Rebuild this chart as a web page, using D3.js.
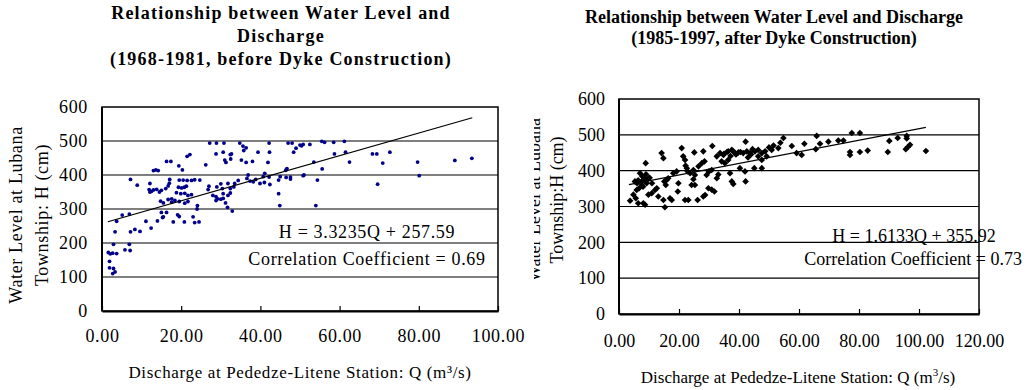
<!DOCTYPE html>
<html lang="en">
<head>
<meta charset="UTF-8">
<title>Water Level vs Discharge</title>
<script src="https://d3js.org/d3.v7.min.js"></script>
<style>
  body{margin:0;background:#fff;}
  svg text{font-family:"Liberation Serif","Times New Roman",serif;fill:#000;}
</style>
</head>
<body>
<svg id="canvas" width="1029" height="390"></svg>
<script>
// ---- data: [discharge Q (m3/s), water level H (cm)]
const before = [
  [2.9,196],[1.6,172],[2.1,168],[2.7,170],[3.7,169],[1.9,146],[1.9,127],[2.9,125],[2.7,110],[3.3,115],
  [5.8,180],[7.1,178],[6.9,196],[3.3,233],[3.7,264],[5.1,282],[6.9,285],[7.2,387],[8.9,370],[7.2,233],
  [8.3,240],[9.6,234],[11.1,264],[12.4,244],[13.0,413],[13.6,415],[14.2,413],[12.1,375],[11.9,357],[12.1,350],
  [12.5,352],[13.0,356],[13.8,358],[15.0,355],[14.5,350],[14.0,265],[15.3,275],[16.3,290],[15.0,290],[15.5,277],
  [14.8,323],[15.5,318],[16.7,328],[17.6,320],[16.3,440],[17.4,440],[17.1,387],[17.0,376],[16.1,360],[16.7,368],
  [17.6,330],[18.4,325],[18.0,262],[19.1,283],[19.5,278],[19.4,427],[20.3,415],[19.5,385],[20.5,385],[19.3,364],
  [20.1,362],[20.8,364],[21.3,367],[18.8,348],[19.9,345],[20.9,346],[19.5,322],[20.9,317],[21.7,322],[21.5,455],
  [22.2,460],[21.5,384],[22.6,384],[23.4,386],[21.7,340],[22.6,342],[20.8,262],[23.0,277],[24.5,262],[23.4,260],
  [24.0,300],[24.1,310],[24.7,385],[26.2,430],[27.0,367],[26.8,357],[27.2,494],[28.8,462],[28.9,494],[28.0,340],
  [28.8,336],[29.0,365],[28.8,325],[29.2,330],[30.0,374],[30.4,360],[30.6,345],[30.6,467],[30.8,494],[30.0,329],
  [30.6,331],[31.2,318],[31.0,444],[31.3,437],[32.4,460],[32.5,447],[32.7,462],[31.7,305],[32.9,294],[31.8,375],
  [32.4,360],[33.3,365],[33.5,375],[32.4,347],[31.8,340],[34.4,384],[34.8,494],[35.6,485],[35.8,472],[36.4,480],
  [35.2,444],[36.4,437],[36.9,400],[36.6,390],[38.0,440],[38.2,380],[38.8,387],[39.4,467],[40.7,395],[41.1,405],
  [42.2,494],[42.3,467],[41.9,437],[42.2,394],[44.6,345],[44.9,310],[46.4,414],[47.6,394],[47.0,494],[48.0,494],
  [48.4,467],[46.7,419],[37.4,382],[39.9,375],[41.0,378],[42.4,372],[44.6,385],[45.0,395],[46.5,393],[47.6,388],
  [49.0,479],[50.0,488],[50.4,486],[50.8,490],[52.5,490],[55.5,499],[56.2,496],[58.5,496],[61.2,499],[58.7,462],
  [61.5,467],[53.5,438],[55.6,418],[62.5,438],[50.8,398],[51.0,400],[54.4,385],[54.0,310],[68.3,462],[69.4,462],
  [72.7,467],[70.9,435],[69.6,373],[79.7,438],[80.1,398],[89.1,443],[93.4,449]
];
const after = [
  [3.7,316],[4.8,333],[5.6,323],[6.4,309],[8.1,309],[8.7,305],[5.9,346],[6.7,351],[7.6,360],[5.3,370],
  [6.4,373],[7.6,370],[8.7,376],[9.2,373],[9.8,379],[7.0,393],[7.8,384],[9.2,365],[8.9,421],[9.8,333],
  [10.9,337],[12.0,346],[12.6,351],[13.1,328],[14.8,318],[15.3,298],[14.2,449],[14.8,435],[15.1,370],[15.9,374],
  [16.4,379],[15.6,360],[17.0,323],[17.6,318],[18.1,393],[19.2,398],[19.8,365],[19.6,342],[20.9,463],[21.4,440],
  [22.0,430],[22.2,414],[22.6,407],[22.9,398],[22.0,318],[23.1,318],[23.7,393],[24.8,402],[25.3,388],[24.2,360],
  [25.3,360],[24.8,376],[25.1,451],[26.2,318],[28.1,328],[28.7,332],[26.5,412],[27.6,421],[28.5,426],[28.1,454],
  [29.8,351],[30.9,347],[31.8,342],[29.2,388],[30.0,398],[30.9,402],[31.1,469],[32.6,379],[33.1,389],[32.6,440],
  [33.7,449],[34.8,444],[34.2,426],[35.3,421],[36.4,430],[36.4,454],[37.6,458],[38.7,449],[39.8,451],[37.0,393],
  [37.6,370],[38.1,363],[40.3,407],[42.0,398],[41.4,449],[42.6,454],[42.2,481],[42.2,370],[43.7,449],[45.3,454],
  [46.4,458],[47.6,449],[48.7,454],[45.1,407],[47.6,407],[46.4,440],[47.6,430],[49.2,440],[50.9,458],[53.1,463],
  [54.8,491],[57.6,469],[59.2,449],[35.0,447],[36.0,452],[38.0,455],[39.0,445],[40.5,452],[44.0,445],[44.5,460],
  [37.2,441],[43.0,437],[50.0,465],[51.5,470],[53.8,478],[6.0,365],[8.0,355],[9.0,390],[10.2,380],[11.0,365],
  [60.9,444],[61.8,475],[65.6,460],[65.9,497],[67.0,475],[69.8,481],[73.1,484],[74.8,484],[77.6,505],[80.3,505],
  [77.0,444],[77.0,452],[80.3,452],[82.9,456],[89.6,452],[90.1,483],[92.9,491],[95.9,497],[95.9,490],[95.6,460],
  [96.3,466],[97.0,472],[102.3,455]
];

// fitted lines: slope, intercept, and the Q span they are drawn over
const fitBefore = [3.3235, 257.59], fitBeforeSpan = [1.5, 93.5];
const fitAfter  = [1.6133, 355.92], fitAfterSpan  = [3.3, 102.3];

const levelTicks = [0, 100, 200, 300, 400, 500, 600];
const gridLevels = [100, 200, 300, 400, 500];
const qTicksBefore = [0, 20, 40, 60, 80, 100];
const qTicksAfter  = [0, 20, 40, 60, 80, 100, 120];

const titleBefore = ["Relationship between Water Level and", "Discharge", "(1968-1981, before Dyke Construction)"];
const titleAfter  = ["Relationship between Water Level and Discharge", "(1985-1997, after Dyke Construction)"];
const eqBefore = ["H = 3.3235Q + 257.59", "Correlation Coefficient = 0.69"];
const eqAfter  = ["H = 1.6133Q + 355.92", "Correlation Coefficient = 0.73"];

const svg = d3.select("#canvas");
const fmt = d3.format(".2f");

svg.append("clipPath").attr("id", "yclip").append("rect")
  .attr("x", 534).attr("y", 0).attr("width", 100).attr("height", 390);

function drawPanel(p) {
  const g = svg.append("g").style("letter-spacing", p.spacing + "px");
  const x = d3.scaleLinear().domain([0, p.qMax]).range([p.left, p.right]);
  const y = d3.scaleLinear().domain([0, 600]).range([p.bottom, p.top]);
  const w = p.right - p.left;

  // titles
  g.selectAll(".title").data(p.title).join("text")
    .attr("x", p.titleX).attr("y", (d, i) => p.titleY + i * p.titleStep)
    .attr("text-anchor", "middle").attr("font-size", 18).attr("font-weight", "bold")
    .style("letter-spacing", p.titleSpacing + "px")
    .text(d => d);

  // gridlines
  g.append("g").selectAll("line").data(gridLevels).join("line")
    .attr("x1", p.left).attr("x2", p.right)
    .attr("y1", d => y(d)).attr("y2", d => y(d))
    .attr("stroke", "#000").attr("stroke-width", 1.2);

  // frame
  g.append("rect").attr("x", p.left).attr("y", p.top).attr("width", w).attr("height", p.bottom - p.top)
    .attr("fill", "none").attr("stroke", "#000").attr("stroke-width", 1.5);

  // y axis labels
  const ya = g.append("g").attr("transform", `translate(${p.left},0)`)
    .call(d3.axisLeft(y).tickValues(levelTicks).tickSize(0).tickPadding(14).tickFormat(d3.format("d")));
  ya.attr("font-family", null);
  ya.select(".domain").remove();
  ya.selectAll("text").attr("font-size", 18);

  // x axis: inner ticks
  const xa = g.append("g").attr("transform", `translate(0,${p.bottom})`)
    .call(d3.axisBottom(x).tickValues(p.qTicks).tickSizeInner(-5).tickSizeOuter(0).tickPadding(p.xPad).tickFormat(fmt));
  xa.attr("font-family", null);
  xa.select(".domain").attr("stroke-width", 2);
  xa.selectAll(".tick line").attr("stroke-width", 1.2);
  xa.selectAll("text").attr("font-size", 18);
  g.append("line").attr("x1", p.left).attr("x2", p.left).attr("y1", p.top).attr("y2", p.bottom)
    .attr("stroke", "#000").attr("stroke-width", 2);

  // points
  if (p.diamond) {
    const sym = d3.symbol(d3.symbolSquare, 22);
    g.append("g").selectAll("path").data(p.points).join("path")
      .attr("d", sym)
      .attr("transform", d => `translate(${x(d[0])},${y(d[1])}) rotate(45)`)
      .attr("fill", p.color);
  } else {
    g.append("g").selectAll("circle").data(p.points).join("circle")
      .attr("cx", d => x(d[0])).attr("cy", d => y(d[1])).attr("r", 1.9)
      .attr("fill", p.color);
  }

  // fitted line
  const line = d3.line().x(d => x(d)).y(d => y(p.fit[0] * d + p.fit[1]));
  g.append("path").datum(p.fitSpan).attr("d", line)
    .attr("fill", "none").attr("stroke", "#000").attr("stroke-width", 1.2);

  // equation text
  g.selectAll(".eq").data(p.eq).join("text")
    .attr("x", (d, i) => p.eqX[i]).attr("y", (d, i) => p.eqY[i])
    .attr("text-anchor", (d, i) => p.eqAnchor[i]).attr("font-size", 18)
    .text(d => d);

  // x axis title
  const xt = g.append("text").attr("x", p.xTitleX).attr("y", p.xTitleY)
    .attr("text-anchor", "middle").attr("font-size", 17);
  xt.append("tspan").text("Discharge at Pededze-Litene Station: Q (m");
  if (p.supGlyph) xt.append("tspan").text("³/s)");
  else {
    xt.append("tspan").attr("font-size", 11).attr("dy", -7).text("3");
    xt.append("tspan").attr("dy", 7).text("/s)");
  }

  // y axis title (two rotated lines), first line optionally clipped
  p.yTitle.forEach((t, i) => {
    const holder = (i === 0 && p.clipFirst) ? g.append("g").attr("clip-path", "url(#yclip)") : g;
    holder.append("text")
      .attr("transform", `translate(${p.yTitleX[i]},${p.yTitleY}) rotate(-90)`)
      .attr("text-anchor", "middle").attr("dy", "0.35em").attr("font-size", 18)
      .text(t);
  });
}

drawPanel({
  left: 102, right: 498, top: 107, bottom: 311, qMax: 100, qTicks: qTicksBefore, xPad: 18,
  spacing: 0.65, titleSpacing: 1.2, title: titleBefore, titleX: 281, titleY: 19, titleStep: 23,
  points: before, color: "#00008b", diamond: false, fit: fitBefore, fitSpan: fitBeforeSpan,
  eq: eqBefore, eqX: [367, 367], eqY: [238, 265], eqAnchor: ["middle", "middle"],
  xTitleX: 300, xTitleY: 378, supGlyph: true,
  yTitle: ["Water Level at Lubana", "Township: H (cm)"], yTitleX: [16, 42], yTitleY: 215
});

drawPanel({
  left: 619, right: 979, top: 99, bottom: 314, qMax: 120, qTicks: qTicksAfter, xPad: 20,
  spacing: 0, titleSpacing: 0, title: titleAfter, titleX: 774, titleY: 23, titleStep: 20.5,
  points: after, color: "#000", diamond: true, fit: fitAfter, fitSpan: fitAfterSpan,
  eq: eqAfter, eqX: [914, 1022], eqY: [242, 265], eqAnchor: ["middle", "end"],
  xTitleX: 798, xTitleY: 383, supGlyph: false, clipFirst: true,
  yTitle: ["Water Level at Lubana", "Township:H (cm)"], yTitleX: [534, 557], yTitleY: 200
});
</script>
</body>
</html>
